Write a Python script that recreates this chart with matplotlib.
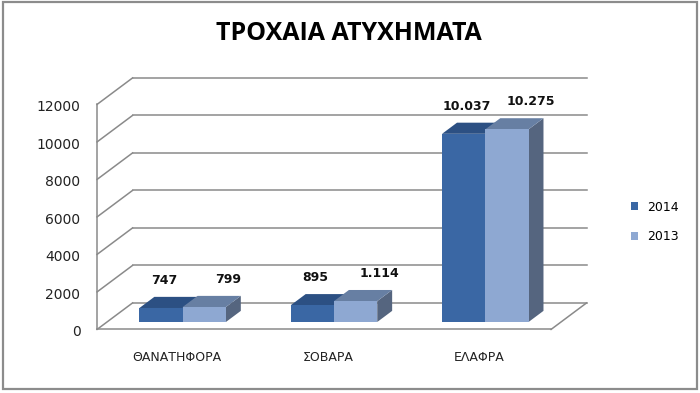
import matplotlib
matplotlib.use("Agg")
import matplotlib.pyplot as plt
from matplotlib.patches import Polygon, Rectangle, Patch

# data
categories = ["ΘΑΝΑΤΗΦΟΡΑ", "ΣΟΒΑΡΑ", "ΕΛΑΦΡΑ"]
years = ["2014", "2013"]
values_2014 = [747, 895, 10037]
values_2013 = [799, 1114, 10275]
labels_2014 = ["747", "895", "10.037"]
labels_2013 = ["799", "1.114", "10.275"]
yticks = [0, 2000, 4000, 6000, 8000, 10000, 12000]

series = [values_2014, values_2013]
series_labels = [labels_2014, labels_2013]
# front, top, side colours for each series
face_colors = [("#3a67a4", "#2c5083", "#2c4a75"),
               ("#8ea8d2", "#677fa3", "#55657f")]
grid_color = "#8a8a8a"

# depth of the 3-D box in pixels (right, up), and where bars sit in it
DX, DY = 35.5, 26.5
FRONT, BACK = -0.28, 0.72
BAR_DEPTH = 0.42

fig = plt.figure(figsize=(7, 3.93), dpi=100)
ax = fig.add_axes([107 / 700, 71 / 393, 454 / 700, 225 / 393])
ax.set_xlim(-0.5, len(categories) - 0.5)
ax.set_ylim(0, 12000)
ax.axis("off")


def depth(x, y, f):
    """moves a data point a fraction f back into the chart depth"""
    px, py = ax.transData.transform((x, y))
    return ax.transData.inverted().transform((px + f * DX, py + f * DY))


x_left, x_right = -0.5, len(categories) - 0.5
line_kw = dict(color=grid_color, lw=1.1, clip_on=False, zorder=1)
text_kw = dict(textcoords="offset points", annotation_clip=False)

# back wall and left wall gridlines, with the value axis labels
for v in yticks:
    b0, b1 = depth(x_left, v, BACK), depth(x_right, v, BACK)
    f0 = depth(x_left, v, FRONT)
    ax.plot([b0[0], b1[0]], [b0[1], b1[1]], **line_kw)
    ax.plot([f0[0], b0[0]], [f0[1], b0[1]], **line_kw)
    ax.annotate(f"{v}", xy=f0, xytext=(-12, -2), ha="right", va="center",
                fontsize=10, color="#222222", **text_kw)

# front edge of the wall and the floor
top_front = depth(x_left, yticks[-1], FRONT)
f0 = depth(x_left, 0, FRONT)
f1 = depth(x_right, 0, FRONT)
b1 = depth(x_right, 0, BACK)
ax.plot([f0[0], top_front[0]], [f0[1], top_front[1]], **line_kw)
ax.plot([f0[0], f1[0]], [f0[1], f1[1]], **line_kw)
ax.plot([f1[0], b1[0]], [f1[1], b1[1]], **line_kw)

# bars, Excel style: gap width 150 %
w = 1 / 3.5
for i, cat in enumerate(categories):
    for j, vals in enumerate(series):
        v = vals[i]
        x0 = i - 0.5 + 0.75 / 3.5 + j * w
        x1 = x0 + w
        front_c, top_c, side_c = face_colors[j]
        z = 3 + i * 2 + j
        top = [(x0, v), (x1, v), depth(x1, v, BAR_DEPTH), depth(x0, v, BAR_DEPTH)]
        side = [(x1, 0), depth(x1, 0, BAR_DEPTH), depth(x1, v, BAR_DEPTH), (x1, v)]
        front = [(x0, 0), (x1, 0), (x1, v), (x0, v)]
        for pts, c in ((side, side_c), (top, top_c), (front, front_c)):
            ax.add_patch(Polygon(pts, closed=True, fc=c, ec="none",
                                 clip_on=False, zorder=z))
        # value label above the bar
        xoff = -3 if j == 0 else 12
        ax.annotate(series_labels[j][i], xy=depth((x0 + x1) / 2, v, BAR_DEPTH / 2),
                    xytext=(xoff, 16), ha="center", va="center", fontsize=9,
                    fontweight="bold", color="#111111", zorder=10, **text_kw)
    # category label under the floor
    ax.annotate(cat, xy=depth(i, 0, FRONT), xytext=(3, -20), ha="center",
                va="center", fontsize=9, color="#222222", **text_kw)

# legend
handles = [Patch(fc=face_colors[k][0], ec="none") for k in range(2)]
fig.legend(handles, years, loc="center left", bbox_to_anchor=(631 / 700, 1 - 222 / 393),
           frameon=False, fontsize=9, handlelength=0.56, handleheight=0.56,
           handletextpad=0.75, labelspacing=1.35, borderpad=0, borderaxespad=0)

# title
fig.text(349 / 700, 1 - 34 / 393, "ΤΡΟΧΑΙΑ ΑΤΥΧΗΜΑΤΑ", ha="center", va="center",
         fontsize=18, fontweight="bold", family=["Open Sans", "DejaVu Sans"])

# outer frame
fig.patches.append(Rectangle((3 / 700, 4 / 393), 694 / 700, 387 / 393,
                             transform=fig.transFigure, fill=False,
                             ec="#8c8c8c", lw=1.6))

fig.savefig("out.png", dpi=100)
